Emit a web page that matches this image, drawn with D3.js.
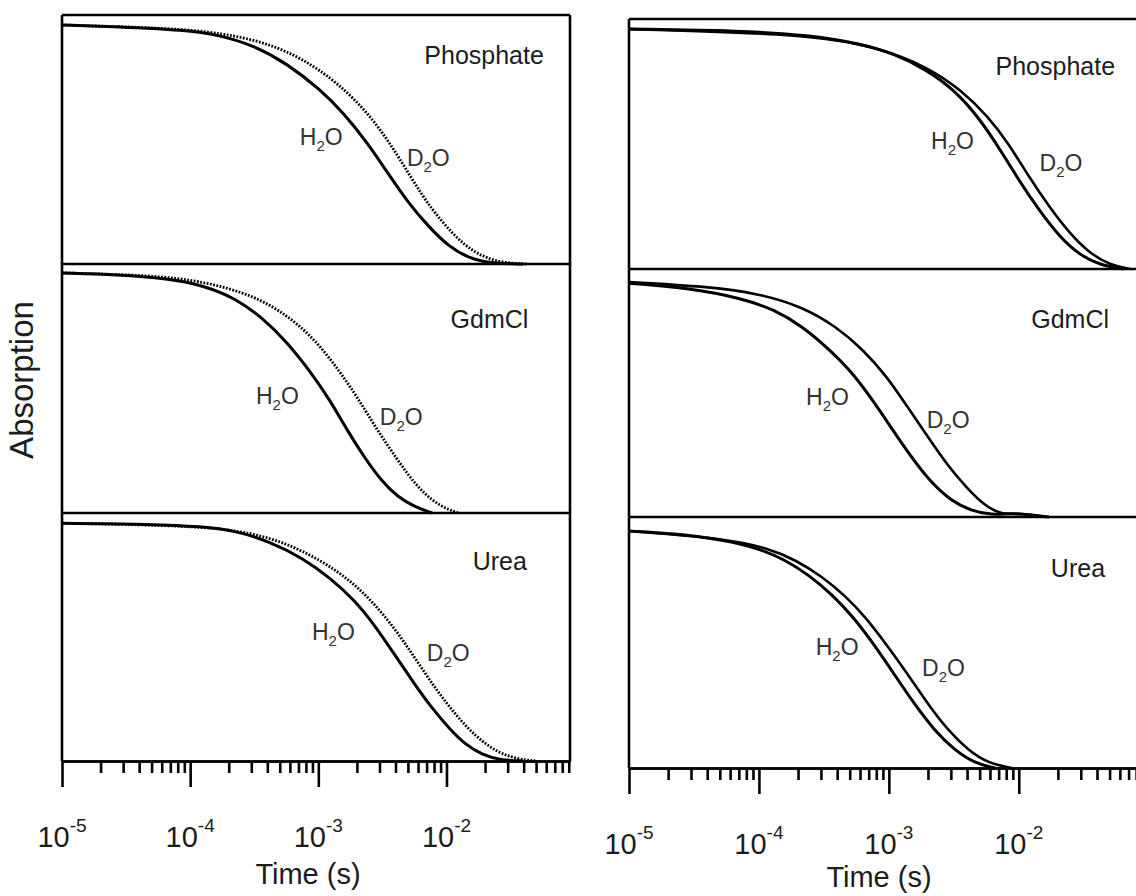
<!DOCTYPE html>
<html>
<head>
<meta charset="utf-8">
<script src="https://cdn.jsdelivr.net/npm/d3@7"></script>
<style>
	body { margin: 0; background: #fff; }
	svg { display: block; }
	text { font-family: "Liberation Sans", Arial, sans-serif; fill: #1c1c1c; }
</style>
</head>
<body>
<div id="chart"></div>
<script>

// each point: [log10(time / s), absorption normalised to the starting plateau]
const leftPhosH2O = [[-5,1],[-4.566,0.993],[-4.038,0.979],[-3.775,0.958],[-3.511,0.916],[-3.247,0.84],[-2.984,0.73],[-2.799,0.63],[-2.614,0.505],[-2.456,0.379],[-2.297,0.255],[-2.139,0.156],[-1.981,0.072],[-1.823,0.024],[-1.665,0.003],[-1.401,0]];
const leftPhosD2O = [[-5,1],[-4.038,0.986],[-3.643,0.955],[-3.379,0.92],[-3.116,0.857],[-2.852,0.76],[-2.588,0.62],[-2.377,0.453],[-2.192,0.286],[-2.034,0.175],[-1.875,0.084],[-1.717,0.029],[-1.559,0.005],[-1.374,0]];
const leftGdmH2O = [[-5,1],[-4.566,0.993],[-4.17,0.976],[-3.906,0.949],[-3.643,0.894],[-3.432,0.811],[-3.247,0.714],[-3.063,0.59],[-2.904,0.466],[-2.772,0.342],[-2.64,0.231],[-2.508,0.134],[-2.377,0.065],[-2.245,0.025],[-2.113,0]];
const leftGdmD2O = [[-5,1],[-4.302,0.99],[-3.906,0.966],[-3.511,0.908],[-3.247,0.825],[-3.036,0.728],[-2.852,0.604],[-2.693,0.48],[-2.535,0.341],[-2.377,0.217],[-2.245,0.12],[-2.113,0.051],[-1.981,0.012],[-1.9,0]];
const leftUreaH2O = [[-5,1],[-4.302,0.996],[-3.906,0.986],[-3.643,0.968],[-3.379,0.923],[-3.116,0.852],[-2.904,0.768],[-2.719,0.677],[-2.561,0.572],[-2.403,0.446],[-2.245,0.32],[-2.113,0.222],[-1.981,0.138],[-1.849,0.067],[-1.717,0.025],[-1.585,0.004],[-1.4,0]];
const leftUreaD2O = [[-5,1],[-3.906,0.989],[-3.511,0.958],[-3.247,0.915],[-2.984,0.845],[-2.772,0.768],[-2.588,0.677],[-2.403,0.558],[-2.245,0.432],[-2.087,0.305],[-1.928,0.193],[-1.77,0.102],[-1.612,0.039],[-1.453,0.008],[-1.3,0]];

const rightPhosH2O = [[-5,1],[-4.135,0.993],[-3.615,0.975],[-3.225,0.94],[-2.964,0.899],[-2.704,0.829],[-2.496,0.746],[-2.313,0.635],[-2.157,0.51],[-2.001,0.371],[-1.845,0.246],[-1.688,0.135],[-1.532,0.058],[-1.376,0.017],[-1.194,0]];
const rightPhosD2O = [[-5,1],[-3.615,0.979],[-3.095,0.926],[-2.704,0.843],[-2.443,0.746],[-2.236,0.635],[-2.079,0.524],[-1.923,0.385],[-1.767,0.26],[-1.61,0.149],[-1.454,0.065],[-1.298,0.017],[-1.143,0]];
const rightGdmH2O = [[-5,1],[-4.527,0.979],[-4.135,0.936],[-3.875,0.886],[-3.667,0.815],[-3.485,0.73],[-3.302,0.631],[-3.146,0.517],[-2.99,0.389],[-2.834,0.261],[-2.677,0.148],[-2.521,0.069],[-2.366,0.027],[-2.209,0.008],[-2.053,0.017],[-1.897,0.008],[-1.767,0]];
const rightGdmD2O = [[-5,1.005],[-4.396,0.986],[-4.005,0.957],[-3.667,0.9],[-3.406,0.815],[-3.198,0.716],[-3.016,0.602],[-2.86,0.474],[-2.704,0.346],[-2.547,0.219],[-2.391,0.119],[-2.261,0.048],[-2.131,0.01],[-2.0,0.017],[-1.793,0]];
const rightUreaH2O = [[-5,1],[-4.657,0.99],[-4.266,0.962],[-4.005,0.927],[-3.797,0.878],[-3.615,0.814],[-3.432,0.73],[-3.276,0.638],[-3.12,0.526],[-2.964,0.4],[-2.808,0.273],[-2.652,0.16],[-2.496,0.076],[-2.339,0.02],[-2.183,0]];
const rightUreaD2O = [[-5,1],[-4.266,0.969],[-3.928,0.927],[-3.719,0.878],[-3.511,0.807],[-3.329,0.723],[-3.172,0.632],[-3.016,0.519],[-2.86,0.4],[-2.704,0.273],[-2.547,0.16],[-2.391,0.076],[-2.235,0.02],[-2.053,0]];

const solvents = ['Phosphate', 'GdmCl', 'Urea'];
const decades = [-5, -4, -3, -2];
const mantissas = [1, 2, 3, 4, 5, 6, 7, 8, 9];
const timeMax = 0.092;

// where the annotations sit, in data units [log10 t, absorption]
const nameAt = [[[-1.24,0.837],[-1.361,0.771],[-1.373,0.804]], [[-1.259,0.808],[-1.305,0.807],[-1.336,0.807]]];
const h2oAt = [[[-3.144,0.5],[-3.487,0.455],[-3.05,0.51]], [[-2.675,0.5],[-3.637,0.48],[-3.563,0.475]]];
const d2oAt = [[[-2.309,0.41],[-2.52,0.365],[-2.153,0.42]], [[-1.84,0.41],[-2.709,0.38],[-2.744,0.39]]];

const curves = [
	[[leftPhosH2O, leftPhosD2O], [leftGdmH2O, leftGdmD2O], [leftUreaH2O, leftUreaD2O]],
	[[rightPhosH2O, rightPhosD2O], [rightGdmH2O, rightGdmD2O], [rightUreaH2O, rightUreaD2O]]
];

const width = 1136;
const height = 896;

// two columns of three stacked panels
const columns = [
	{ x0: 62, x1: 570, tops: [15, 264, 513], bottom: 761, yMax: [1.042, 1.037, 1.043], dotted: true, titleX: 308, titleY: 884, rightEdge: true },
	{ x0: 629, x1: 1144, tops: [19, 269, 517], bottom: 768, yMax: [1.042, 1.061, 1.059], dotted: false, titleX: 879, titleY: 887, rightEdge: false }
];

const svg = d3.select('#chart')
	.append('svg')
		.attr('width', width)
		.attr('height', height);

columns.forEach(function(col, c) {

	let x = d3.scaleLog()
		.domain([1e-5, timeMax])
		.range([col.x0, col.x1]);

	let g = svg.append('g');

	solvents.forEach(function(name, p) {
		let top = col.tops[p];
		let bottom = (p < 2) ? col.tops[p + 1] : col.bottom;

		let y = d3.scaleLinear()
			.domain([0, col.yMax[p]])
			.range([bottom, top]);

		let line = d3.line()
			.x(function(d) { return x(Math.pow(10, d[0])); })
			.y(function(d) { return y(d[1]); })
			.curve(d3.curveBasis);

		// D2O first so the H2O line sits on top
		g.append('path')
			.attr('d', line(curves[c][p][1]))
			.attr('fill', 'none')
			.attr('stroke', '#000')
			.attr('stroke-width', col.dotted ? 2.8 : 2.6)
			.attr('stroke-dasharray', col.dotted ? '1.8,1.5' : null);

		g.append('path')
			.attr('d', line(curves[c][p][0]))
			.attr('fill', 'none')
			.attr('stroke', '#000')
			.attr('stroke-width', 3);

		g.append('text')
			.attr('x', x(Math.pow(10, nameAt[c][p][0])))
			.attr('y', y(nameAt[c][p][1]))
			.attr('text-anchor', 'end')
			.attr('font-size', 25)
			.text(name);

		[[h2oAt, 'H'], [d2oAt, 'D']].forEach(function(lab) {
			let pos = lab[0][c][p];
			let t = g.append('text')
				.attr('x', x(Math.pow(10, pos[0])))
				.attr('y', y(pos[1]))
				.attr('font-size', 23)
				.style('fill', '#333');
			t.append('tspan').text(lab[1]);
			t.append('tspan').attr('dy', 6).attr('font-size', 15).text('2');
			t.append('tspan').attr('dy', -6).text('O');
		});

		// panel top edge
		g.append('line')
			.attr('x1', col.x0)
			.attr('x2', col.x1)
			.attr('y1', top)
			.attr('y2', top)
			.attr('stroke', '#000')
			.attr('stroke-width', 2.6);
	});

	// left (and right) frame
	g.append('line')
		.attr('x1', col.x0).attr('x2', col.x0)
		.attr('y1', col.tops[0]).attr('y2', col.bottom)
		.attr('stroke', '#000')
		.attr('stroke-width', 2.6);

	if (col.rightEdge) {
		g.append('line')
			.attr('x1', col.x1).attr('x2', col.x1)
			.attr('y1', col.tops[0]).attr('y2', col.bottom)
			.attr('stroke', '#000')
			.attr('stroke-width', 2.6);
	}

	let allTicks = [];
	decades.forEach(function(e) {
		mantissas.forEach(function(m) {
			let v = m * Math.pow(10, e);
			if (v <= timeMax * 1.001) allTicks.push(v);
		});
	});
	let minor = allTicks.filter(function(v, i) { return i % 9 != 0; });
	let major = decades.map(function(e) { return Math.pow(10, e); });

	let minorAxis = d3.axisBottom(x)
		.tickValues(minor)
		.tickSize(12)
		.tickSizeOuter(0)
		.tickFormat('');

	let majorAxis = d3.axisBottom(x)
		.tickValues(major)
		.tickSize(26)
		.tickSizeOuter(0)
		.tickFormat('');

	[minorAxis, majorAxis].forEach(function(ax) {
		let a = svg.append('g')
			.attr('transform', `translate(0, ${col.bottom})`)
			.call(ax);
		a.selectAll('path, line')
			.attr('stroke', '#000')
			.attr('stroke-width', 2.6);
	});

	// 10^n labels
	decades.forEach(function(e) {
		let t = svg.append('text')
			.attr('x', x(Math.pow(10, e)))
			.attr('y', col.bottom + 86)
			.attr('text-anchor', 'middle')
			.attr('font-size', 29);
		t.append('tspan').text('10');
		t.append('tspan').attr('dy', -15).attr('font-size', 19).text(String(e));
	});

	svg.append('text')
		.attr('x', col.titleX)
		.attr('y', col.titleY)
		.attr('text-anchor', 'middle')
		.attr('font-size', 29)
		.text('Time (s)');
});

svg.append('text')
	.attr('transform', 'translate(33, 380) rotate(-90)')
	.attr('text-anchor', 'middle')
	.attr('font-size', 33)
	.text('Absorption');

</script>
</body>
</html>
